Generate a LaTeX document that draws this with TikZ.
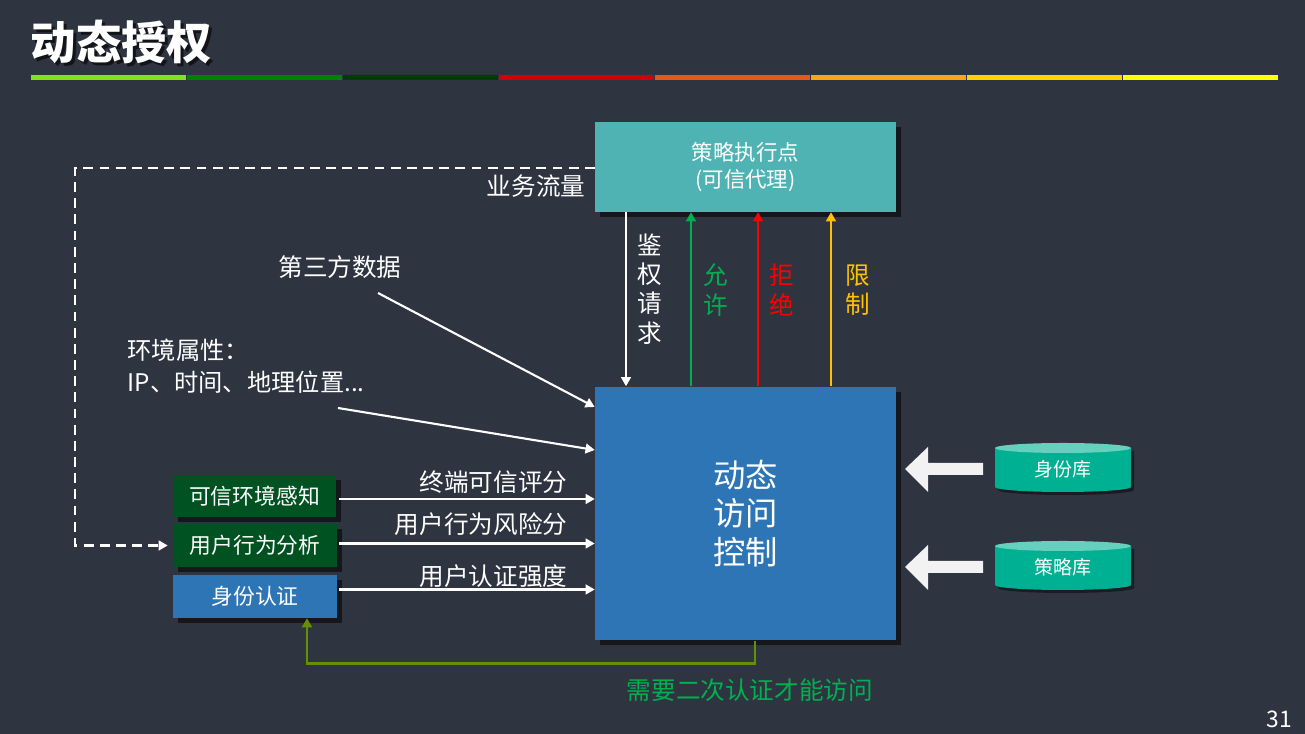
\documentclass[tikz,border=0pt]{standalone}
\usepackage{fontspec}
\setmainfont{Noto Sans CJK SC}
\usetikzlibrary{arrows.meta,shadows}

\definecolor{bgcol}{RGB}{47,52,65}
\definecolor{pepcol}{RGB}{80,179,179}
\definecolor{pdpcol}{RGB}{46,117,182}
\definecolor{sensegreen}{RGB}{0,82,33}
\definecolor{okgreen}{RGB}{0,176,80}
\definecolor{nored}{RGB}{255,0,0}
\definecolor{limityellow}{RGB}{255,192,0}
\definecolor{fbolive}{RGB}{100,145,0}
\definecolor{dbbody}{RGB}{0,176,147}
\definecolor{dbtop}{RGB}{102,208,190}
\definecolor{blockwhite}{RGB}{242,242,242}
\definecolor{bara}{RGB}{131,225,32}
\definecolor{barb}{RGB}{0,130,0}
\definecolor{barc}{RGB}{0,60,0}
\definecolor{bard}{RGB}{210,0,0}
\definecolor{bare}{RGB}{225,90,25}
\definecolor{barf}{RGB}{250,165,20}
\definecolor{barg}{RGB}{255,210,0}
\definecolor{barh}{RGB}{255,255,0}

\tikzset{
  shade box/.style={drop shadow={shadow xshift=0.05cm, shadow yshift=-0.05cm, opacity=0.55, fill=black}},
  pepbox/.style={shade box, fill=pepcol, minimum width=3cm, minimum height=0.89cm, inner sep=0,
    text=white, align=center, font=\fontsize{6.1}{7.7}\selectfont},
  pdpbox/.style={shade box, fill=pdpcol, minimum width=3cm, minimum height=2.53cm, inner sep=0,
    text=white, align=center, font=\fontsize{9.2}{11}\selectfont},
  srcbox/.style={shade box, minimum width=1.63cm, minimum height=0.42cm, inner sep=0,
    text=white, font=\fontsize{6.2}{7}\selectfont},
  wlabel/.style={text=white, inner sep=0, font=\fontsize{7}{9}\selectfont},
  vlabel/.style={inner sep=0, align=center, font=\fontsize{7}{8.3}\selectfont},
  warrow/.style={draw=white, line width=0.6pt, -{Triangle[length=2.6pt,width=2.8pt]}},
  upto/.style={line width=0.6pt, -{Triangle[length=2.6pt,width=2.8pt]}},
  flowdash/.style={draw=white, line width=0.6pt, dash pattern=on 2.8pt off 1.8pt,
    -{Triangle[length=2.6pt,width=2.8pt]}},
  fbarrow/.style={draw=fbolive, line width=0.85pt, -{Triangle[length=2.6pt,width=2.8pt]}},
}

\begin{document}
\begin{tikzpicture}[x=0.01cm, y=-0.01cm]
  \useasboundingbox[fill=bgcol] (0,0) rectangle (1305,734);

  % title and colour bar
  \node[anchor=west, inner sep=0, text=black, opacity=0.6, font=\bfseries\fontsize{12.9}{13}\selectfont]
    at (33,45) {动态授权};
  \node[anchor=west, inner sep=0, text=white, font=\bfseries\fontsize{12.9}{13}\selectfont]
    (title) at (30,42) {动态授权};
  \foreach \i/\col in {0/bara,1/barb,2/barc,3/bard,4/bare,5/barf,6/barg,7/barh}
    \fill[\col] ({31+156*\i},75) rectangle ({186+156*\i},80);

  % policy enforcement point and decision box
  \node[pepbox] (pep) at (745.5,167) {策略执行点\\(可信代理)};
  \node[pdpbox] (pdp) at (745.5,513.5) {动态\\访问\\控制};

  \draw[warrow] (626,0 |- pep.south) -- (626,0 |- pdp.north);
  \draw[upto, draw=okgreen, okgreen] (691,0 |- pdp.north) -- (691,0 |- pep.south);
  \draw[upto, draw=nored, nored] (758,0 |- pdp.north) -- (758,0 |- pep.south);
  \draw[upto, draw=limityellow, limityellow] (831,0 |- pdp.north) -- (831,0 |- pep.south);
  \node[vlabel, text=white] (req) at (650,289) {鉴\\权\\请\\求};
  \node[vlabel, text=okgreen] (allow) at (716,290) {允\\许};
  \node[vlabel, text=nored] (deny) at (782,290) {拒\\绝};
  \node[vlabel, text=limityellow] (limit) at (858,290) {限\\制};

  % inputs
  \node[wlabel] (third) at (340,267) {第三方数据};
  \node[wlabel, anchor=west, align=left, font=\fontsize{6.9}{9.1}\selectfont]
    (env) at (127,366) {环境属性：\\IP、时间、地理位置...};
  \coordinate (thirdtail) at (378,293);
  \coordinate (envtail) at (338,408);
  \draw[warrow] (thirdtail) -- (pdp.west |- 0,407);
  \draw[warrow] (envtail) -- (pdp.west |- 0,450);

  \node[srcbox, fill=sensegreen] (sense) at (254.5,496) {可信环境感知};
  \node[srcbox, fill=sensegreen] (beh) at (255,545.5) {用户行为分析};
  \node[srcbox, fill=pdpcol] (auth) at (255,596.5) {身份认证};
  \coordinate (senseout) at ([yshift=-0.03cm]sense.east);
  \coordinate (behout) at ([yshift=0.02cm]beh.east);
  \coordinate (authout) at ([yshift=0.07cm]auth.east);
  \draw[warrow, shorten <=0.02cm] (senseout) -- (pdp.west |- senseout);
  \draw[warrow, shorten <=0.02cm] (behout) -- (pdp.west |- behout);
  \draw[warrow, shorten <=0.02cm] (authout) -- (pdp.west |- authout);
  \node[wlabel, anchor=east] (score) at (568,482) {终端可信评分};
  \node[wlabel, anchor=east] (risk) at (568,524) {用户行为风险分};
  \node[wlabel, anchor=east] (strength) at (568,576) {用户认证强度};

  % business traffic loop
  \draw[flowdash, shorten >=0.05cm] (pep.west |- 0,168) -- (75,168) |- (beh.west);
  \node[wlabel, anchor=east] (traffic) at (586,186) {业务流量};

  % second authentication loop
  \coordinate (fbcorner) at (307,664);
  \draw[fbarrow] (755,0 |- pdp.south) |- (fbcorner) -- (307,0 |- auth.south);
  \node[wlabel, text=okgreen] (again) at (750,690) {需要二次认证才能访问};

  % stores and block arrows
  \foreach \y/\name/\txt in {469/iddb/身份库, 567/poldb/策略库} {
    \fill[black, opacity=0.45] (998,{\y-18}) rectangle (1134,{\y+21})
      (1066,{\y+21}) ellipse [x radius=0.68cm, y radius=0.05cm];
    \fill[dbbody] (995,{\y-21}) rectangle (1131,{\y+18});
    \fill[dbbody] (1063,{\y+18}) ellipse [x radius=0.68cm, y radius=0.05cm];
    \fill[dbtop] (1063,{\y-21}) ellipse [x radius=0.68cm, y radius=0.05cm];
    \node[text=white, inner sep=0, font=\fontsize{5.4}{6}\selectfont] (\name) at (1063,\y) {\txt};
    \fill[blockwhite] (905,\y) -- (928,{\y-22}) -- (928,{\y-6}) -- (983,{\y-6})
      -- (983,{\y+6}) -- (928,{\y+6}) -- (928,{\y+23}) -- cycle;
  }

  \node[text=white, inner sep=0, font=\fontsize{6.5}{7}\selectfont] (page) at (1279,719) {31};
\end{tikzpicture}
\end{document}
